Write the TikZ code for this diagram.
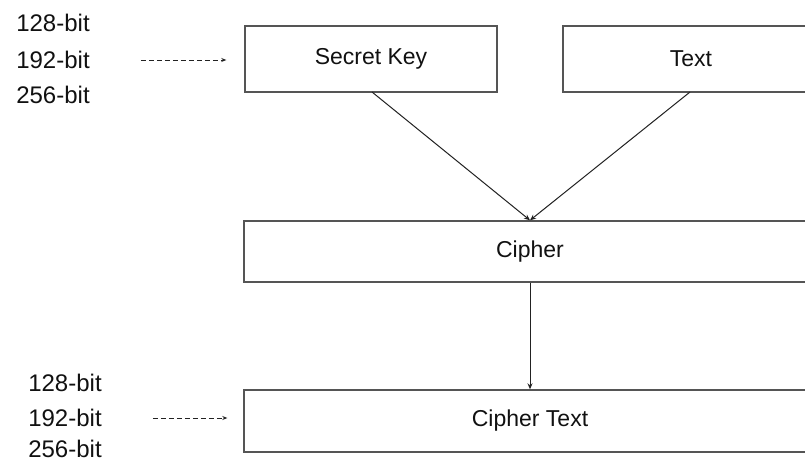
\documentclass[tikz,border=0pt]{standalone}
\usepackage{fontspec}
\setmainfont{Liberation Sans}
\usetikzlibrary{arrows.meta}
\definecolor{boxline}{HTML}{555555}
\definecolor{conn}{HTML}{222222}
\definecolor{txt}{HTML}{111111}
\tikzset{
  blockbox/.style={draw=boxline, line width=1.4pt, rectangle, inner sep=0pt,
    font=\fontsize{23}{26}\selectfont, text=txt},
  bitlabel/.style={font=\fontsize{24}{27}\selectfont, text=txt, inner sep=0pt},
  conline/.style={draw=conn, line width=1pt, -{Stealth[length=6pt,width=5pt]}},
  dashline/.style={draw=conn, line width=0.8pt, dash pattern=on 5pt off 3pt, -{Stealth[length=5pt,width=4pt]}}
}
\begin{document}
\begin{tikzpicture}[x=1pt,y=-1pt]
\clip (0,0) rectangle (805,463);
\fill[white] (0,0) rectangle (805,463);
% boxes
\node[blockbox, minimum width=252pt, minimum height=66pt] (sk) at (371,59) {Secret Key};
\node[blockbox, minimum width=256pt, minimum height=66pt] (tx) at (691,59) {Text};
\node[blockbox, minimum width=572pt, minimum height=61pt] (ci) at (530,251.5) {Cipher};
\node[blockbox, minimum width=572pt, minimum height=62pt] (ct) at (530,421) {Cipher Text};
% labels
\node[bitlabel] (a1) at (53,23) {128-bit};
\node[bitlabel] (a2) at (53,60) {192-bit};
\node[bitlabel] (a3) at (53,95) {256-bit};
\node[bitlabel] (b1) at (65,383) {128-bit};
\node[bitlabel] (b2) at (65,418) {192-bit};
\node[bitlabel] (b3) at (65,449) {256-bit};
% connectors
\coordinate (skout) at (372,92);
\coordinate (txout) at (690,92);
\draw[conline] (skout) -- (ci.north);
\draw[conline] (txout) -- (ci.north);
\draw[conline] (ci.south) -- (ct.north);
\draw[dashline] ([xshift=51pt]a2.east) -- ([xshift=-18pt]a2.east -| sk.west);
\draw[dashline] ([xshift=51pt]b2.east) -- ([xshift=-16pt]b2.east -| ct.west);
\end{tikzpicture}
\end{document}
